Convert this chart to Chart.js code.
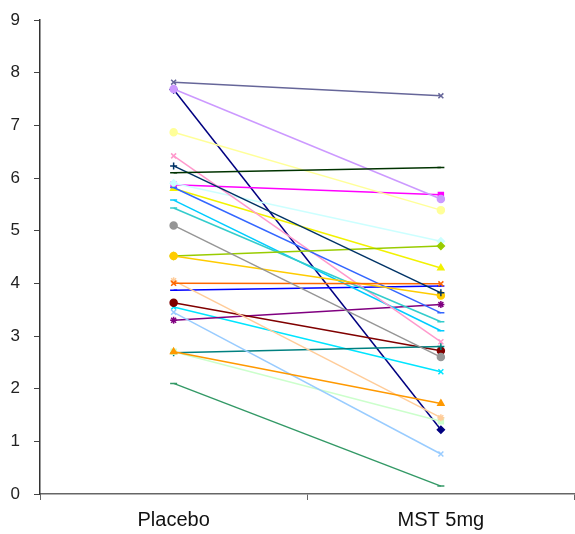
<!DOCTYPE html>
<html>
<head>
<meta charset="utf-8">
<script src="https://cdn.jsdelivr.net/npm/chart.js@4/dist/chart.umd.min.js"></script>
<style>
	html, body { margin: 0; background: #fff; overflow: hidden; }
</style>
</head>
<body>
<canvas id="pairChart" width="580" height="534"></canvas>
<script>
// two conditions, one line per subject
var categories = ["Placebo", "MST 5mg"];
var yTicks = [0, 1, 2, 3, 4, 5, 6, 7, 8, 9];

var placebo = [
	7.68, 5.87, 5.80, 3.55, 3.30, 3.63, 2.68, 3.87, 5.58, 5.90, 2.70, 6.87, 3.45, 6.42,
	7.69, 4.05, 5.82, 5.43, 4.52, 4.52, 2.70, 4.00, 7.82, 5.10, 6.23, 2.10, 6.10,
];
var mst5mg = [
	1.22, 5.68, 4.29, 2.32, 3.60, 2.72, 2.80, 3.95, 3.10, 4.80, 1.38, 5.39, 0.76, 2.89,
	5.60, 1.45, 3.44, 3.27, 4.71, 3.77, 1.72, 3.99, 7.56, 2.60, 3.82, 0.15, 6.20,
];

var colors = [
	"#000080", "#FF00FF", "#F2F200", "#00E5FF", "#800080", "#800000", "#008080", "#0000FF",
	"#00CCFF", "#CCFFFF", "#CCFFCC", "#FFFF99", "#99CCFF", "#FF99CC", "#CC99FF", "#FFCC99",
	"#3366FF", "#33CCCC", "#99CC00", "#FFCC00", "#FF9900", "#FF6600", "#666699", "#969696",
	"#003366", "#339966", "#003300",
];
var markers = [
	"rectRot", "rect", "triangle", "crossRot", "star", "circle", "cross", "line",
	"line", "rectRot", "rect", "circle", "crossRot", "crossRot", "circle", "star",
	"line", "line", "rectRot", "circle", "triangle", "crossRot", "crossRot", "circle",
	"cross", "line", "line",
];

var datasets = placebo.map(function (p, i) {
	return {
		label: "S" + (i + 1),
		data: [p, mst5mg[i]],
		borderColor: colors[i],
		backgroundColor: colors[i],
		borderWidth: 1.5,
		pointStyle: markers[i],
		pointRadius: 3.5,
		pointBorderWidth: 1.5,
		tension: 0,
		order: placebo.length - i, // later series on top, like the original
	};
});

var ctx = document.getElementById("pairChart").getContext("2d");
new Chart(ctx, {
	type: "line",
	data: { labels: categories, datasets: datasets },
	options: {
		responsive: false,
		animation: false,
		layout: { padding: { top: 20, right: 1, left: 0, bottom: 0 } },
		plugins: { legend: { display: false }, tooltip: { enabled: false } },
		scales: {
			x: {
				offset: true,
				grid: { offset: true, drawOnChartArea: false, tickLength: 6, color: "#666" },
				border: { color: "#666", width: 1.5 },
				ticks: { color: "#111", font: { family: "Liberation Sans", size: 20 }, padding: 8 },
				afterFit: function (axis) {
					axis.height = 40;
					axis.paddingLeft = 0;
					axis.paddingRight = 0;
				},
			},
			y: {
				min: 0,
				max: 9,
				afterBuildTicks: function (axis) {
					axis.ticks = yTicks.map(function (v) { return { value: v }; });
				},
				grid: { drawOnChartArea: false, tickLength: 6, color: "#444" },
				border: { color: "#333", width: 1.5 },
				ticks: { color: "#222", font: { family: "Liberation Sans", size: 17 }, padding: 14 },
				afterFit: function (axis) {
					axis.width = 40;
					axis.paddingTop = 0;
					axis.paddingBottom = 0;
				},
			},
		},
	},
});
</script>
</body>
</html>
